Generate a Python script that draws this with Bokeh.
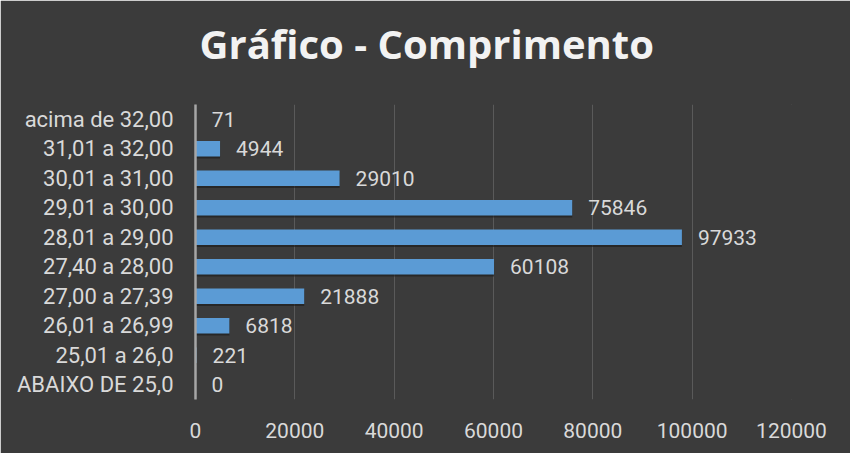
from bokeh.plotting import figure
from bokeh.models import ColumnDataSource, FixedTicker, NumeralTickFormatter, Range1d, Title
from bokeh.transform import dodge
from bokeh.embed import file_html
from bokeh.resources import INLINE

# Data (bottom to top)
categories = ["ABAIXO DE 25,0", "25,01 a 26,0", "26,01 a 26,99", "27,00 a 27,39",
              "27,40 a 28,00", "28,01 a 29,00", "29,01 a 30,00", "30,01 a 31,00",
              "31,01 a 32,00", "acima de 32,00"]
values = [0, 221, 6818, 21888, 60108, 97933, 75846, 29010, 4944, 71]
x_ticks = [0, 20000, 40000, 60000, 80000, 100000, 120000]
title_text = "Gráfico - Comprimento"

src = ColumnDataSource(dict(cat=categories, val=values, lbl=[str(v) for v in values]))

BG = "#3b3b3b"
p = figure(width=850, height=453, y_range=categories, x_range=Range1d(0, 120000),
           output_backend="svg", toolbar_location=None,
           min_border_left=195, min_border_right=59, min_border_top=104, min_border_bottom=54)
p.background_fill_color = BG
p.border_fill_color = BG
p.outline_line_color = BG
p.outline_line_width = 1

p.title.text = title_text
p.title.align = "left"
p.title.offset = 4
p.title.text_font = "Open Sans"
p.title.text_font_style = "bold"
p.title.text_font_size = "40px"
p.title.text_color = "#f2f2f2"
p.title.standoff = 10

spacer = Title(text=" ", text_font="Open Sans", text_font_size="20px", standoff=0)
p.add_layout(spacer, "above")

# bar shadow
p.hbar(y=dodge("cat", -0.07, range=p.y_range), right="val", left=0, height=0.52, source=src,
       fill_color="#1a1a1a", fill_alpha=0.6, line_color=None)
p.hbar(y="cat", right="val", left=0, height=0.52, source=src,
       fill_color="#5b9bd5", line_color=None)

p.text(x="val", y="cat", text="lbl", source=src, x_offset=16,
       text_align="left", text_baseline="middle",
       text_font={"value": "Roboto"}, text_font_size="21px", text_color="#d9d9d9")

# x axis
p.xaxis.ticker = FixedTicker(ticks=x_ticks)
p.xaxis.formatter = NumeralTickFormatter(format="0")
p.xaxis.axis_line_color = None
p.xaxis.major_tick_line_color = None
p.xaxis.minor_tick_line_color = None
p.xaxis.major_label_standoff = 17
p.xaxis.major_label_text_font = "Roboto"
p.xaxis.major_label_text_font_size = "21px"
p.xaxis.major_label_text_color = "#d9d9d9"

# y axis
p.yaxis.axis_line_color = "#a6a6a6"
p.yaxis.axis_line_width = 2.5
p.yaxis.major_tick_line_color = None
p.yaxis.minor_tick_line_color = None
p.yaxis.major_label_standoff = 16
p.yaxis.major_label_text_font = "Roboto"
p.yaxis.major_label_text_font_size = "22px"
p.yaxis.major_label_text_color = "#d9d9d9"

p.xgrid.ticker = FixedTicker(ticks=x_ticks)
p.xgrid.grid_line_color = "#5a5a5a"
p.xgrid.grid_line_width = 1
p.ygrid.grid_line_color = None

open("out.html", "w").write(file_html(p, INLINE))
